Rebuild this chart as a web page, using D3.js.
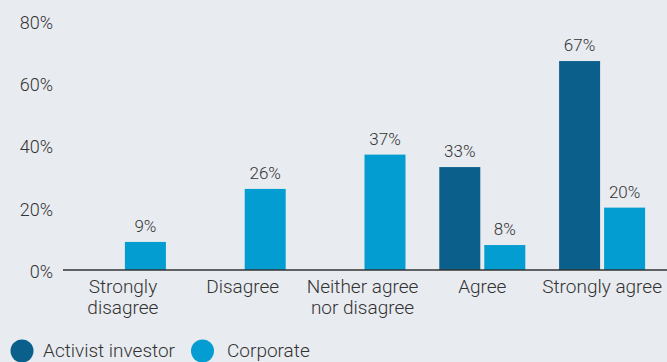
<!DOCTYPE html>
<html>
<head>
<meta charset="utf-8">
<script src="https://cdn.jsdelivr.net/npm/d3@7"></script>
<style>
  html, body { margin: 0; padding: 0; background: #e8ebf0; }
  svg { display: block; }
  text { font-family: Roboto, "Liberation Sans", sans-serif; font-weight: 300; fill: #333; }
</style>
</head>
<body>
<svg id="chart" width="667" height="362"></svg>
<script>
// Survey responses by respondent type (share of respondents, %)
const categories = [
  ["Strongly", "disagree"],
  ["Disagree"],
  ["Neither agree", "nor disagree"],
  ["Agree"],
  ["Strongly agree"]
];
const seriesNames = ["Activist investor", "Corporate"];
const activistValues = [null, null, null, 33, 67];
const corporateValues = [9, 26, 37, 8, 20];
const yTicks = [0, 20, 40, 60, 80];
const colors = ["#0a608b", "#049dd1"];

const svg = d3.select("#chart");
const W = 667, H = 362;

const catKeys = categories.map(c => c.join(" "));
const x0 = d3.scaleBand().domain(catKeys).range([63, 662]).padding(0);
const groupW = 86;
const x1 = d3.scaleBand().domain(seriesNames).range([0, groupW]).paddingInner(0.089);
const y = d3.scaleLinear().domain([0, 80]).range([270, 20.5]);

// y-axis tick labels (no line, no ticks)
const yAxis = d3.axisLeft(y).tickValues(yTicks).tickFormat(d => d + "%").tickSize(0).tickPadding(0);
const yg = svg.append("g").attr("transform", "translate(53,0)").call(yAxis);
yg.select(".domain").remove();
yg.selectAll("text")
  .attr("dy", "0.42em")
  .style("font-size", "18px")
  .style("font-family", "Roboto, sans-serif")
  .attr("fill", "#333");

// bars
const rows = catKeys.map((k, i) => ({
  key: k,
  values: [
    { s: seriesNames[0], v: activistValues[i] },
    { s: seriesNames[1], v: corporateValues[i] }
  ].filter(d => d.v !== null)
}));

const groups = svg.append("g").selectAll("g").data(rows).join("g")
  .attr("transform", d => `translate(${x0(d.key) + (x0.bandwidth() - groupW) / 2},0)`);

groups.selectAll("rect").data(d => d.values).join("rect")
  .attr("x", d => x1(d.s))
  .attr("width", x1.bandwidth())
  .attr("y", d => y(d.v))
  .attr("height", d => y(0) - y(d.v))
  .attr("fill", d => colors[seriesNames.indexOf(d.s)]);

groups.selectAll("text.val").data(d => d.values).join("text")
  .attr("class", "val")
  .attr("x", d => x1(d.s) + x1.bandwidth() / 2)
  .attr("y", d => y(d.v) - 10)
  .attr("text-anchor", "middle")
  .style("font-size", "17px")
  .text(d => d.v + "%");

// baseline
svg.append("line")
  .attr("x1", 63).attr("x2", W)
  .attr("y1", y(0)).attr("y2", y(0))
  .attr("stroke", "#333").attr("stroke-width", 1.5);

// category labels
const xAxis = d3.axisBottom(x0).tickSize(0).tickFormat("");
const xg = svg.append("g").attr("transform", `translate(0,${y(0)})`).call(xAxis);
xg.select(".domain").remove();
xg.selectAll(".tick").each(function(d, i) {
  const t = d3.select(this).append("text")
    .attr("text-anchor", "middle")
    .attr("y", 23)
    .style("font-size", "19px")
    .attr("fill", "#333");
  categories[i].forEach((line, j) => {
    t.append("tspan").attr("x", 0).attr("dy", j === 0 ? 0 : 21).text(line);
  });
});

// legend
const legendCx = [22, 202.5];
const legendTx = [43, 227];
const legend = svg.append("g").selectAll("g").data(seriesNames).join("g");
legend.append("circle")
  .attr("cx", (d, i) => legendCx[i]).attr("cy", 351).attr("r", 11.5)
  .attr("fill", (d, i) => colors[i]);
legend.append("text")
  .attr("x", (d, i) => legendTx[i]).attr("y", 357)
  .style("font-size", "19px")
  .text(d => d);
</script>
</body>
</html>
